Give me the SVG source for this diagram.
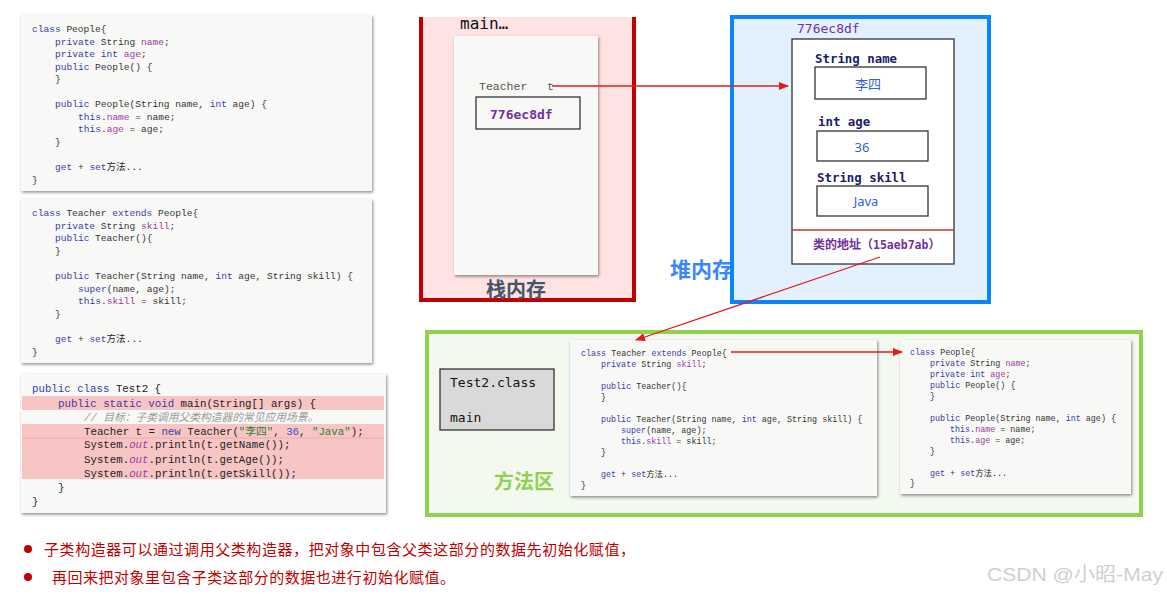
<svg xmlns="http://www.w3.org/2000/svg" width="1167" height="594" viewBox="0 0 1167 594">
<style>
.code{font-family:"Liberation Mono","Noto Sans CJK SC",monospace;fill:#333}
.c1{font-size:9.55px}
.c2{font-size:10.75px}
.c3{font-size:8.4px}
.k{fill:#3b3ba8}
.f{fill:#9a3c9a}
.s{fill:#2e7d32}
.n{fill:#3050d0}
.cm{fill:#9a9a9a;font-style:italic}
.it{fill:#9a3c9a;font-style:italic}
.paper{fill:#f8f9f7;filter:url(#sh)}
.cell{fill:#fff;stroke:#333;stroke-width:1.3}
.lbl{font-family:"DejaVu Sans Mono","Noto Sans CJK SC",monospace;font-size:12.4px;font-weight:bold;fill:#1b1b6b}
.val{font-family:"Noto Sans","Noto Sans CJK SC",sans-serif;font-size:13px;fill:#2e5fe0}
.addr{font-family:"DejaVu Sans Mono",monospace;font-size:13px;fill:#7030a0}
.cn{font-family:"Noto Sans CJK SC",sans-serif;font-weight:bold}
.conn{stroke:#e21b1b;stroke-width:1.3;fill:none}
</style>
<defs>
<filter id="sh" x="-10%" y="-10%" width="120%" height="120%">
<feDropShadow dx="1" dy="1.5" stdDeviation="1.6" flood-color="#000" flood-opacity="0.45"/>
</filter>
<marker id="arr" markerWidth="10" markerHeight="8" refX="9" refY="4" orient="auto" markerUnits="userSpaceOnUse">
<path d="M0,0 L10,4 L0,8 Z" fill="#e21b1b"/>
</marker>
</defs>
<rect width="1167" height="594" fill="#fff"/>

<g id="code-people">
<rect class="paper" x="21" y="15" width="351" height="176"/>
<text class="code c1" x="32" y="31.5"><tspan class="k">class</tspan> People{</text>
<text class="code c1" x="55" y="44.5"><tspan class="k">private</tspan> String <tspan class="f">name</tspan>;</text>
<text class="code c1" x="55" y="57"><tspan class="k">private int</tspan> <tspan class="f">age</tspan>;</text>
<text class="code c1" x="55" y="69.5"><tspan class="k">public</tspan> People() {</text>
<text class="code c1" x="55" y="82">}</text>
<text class="code c1" x="55" y="107"><tspan class="k">public</tspan> People(String name, <tspan class="k">int</tspan> age) {</text>
<text class="code c1" x="78" y="119.5"><tspan class="k">this</tspan>.<tspan class="f">name</tspan> = name;</text>
<text class="code c1" x="78" y="132"><tspan class="k">this</tspan>.<tspan class="f">age</tspan> = age;</text>
<text class="code c1" x="55" y="145">}</text>
<text class="code c1" x="55" y="170"><tspan class="k">get</tspan> + <tspan class="k">set</tspan><tspan fill="#222">方法...</tspan></text>
<text class="code c1" x="32" y="183">}</text>
</g>

<g id="code-teacher">
<rect class="paper" x="21" y="199" width="351" height="164"/>
<text class="code c1" x="32" y="215.5"><tspan class="k">class</tspan> Teacher <tspan class="k">extends</tspan> People{</text>
<text class="code c1" x="55" y="228.5"><tspan class="k">private</tspan> String <tspan class="f">skill</tspan>;</text>
<text class="code c1" x="55" y="241"><tspan class="k">public</tspan> Teacher(){</text>
<text class="code c1" x="55" y="253.5">}</text>
<text class="code c1" x="55" y="278.5"><tspan class="k">public</tspan> Teacher(String name, <tspan class="k">int</tspan> age, String skill) {</text>
<text class="code c1" x="78" y="291.5"><tspan class="k">super</tspan>(name, age);</text>
<text class="code c1" x="78" y="303.5"><tspan class="k">this</tspan>.<tspan class="f">skill</tspan> = skill;</text>
<text class="code c1" x="55" y="316.5">}</text>
<text class="code c1" x="55" y="342"><tspan class="k">get</tspan> + <tspan class="k">set</tspan><tspan fill="#222">方法...</tspan></text>
<text class="code c1" x="32" y="354.5">}</text>
</g>

<g id="code-test2">
<rect class="paper" x="21" y="374" width="365" height="139"/>
<rect x="22" y="396" width="362" height="14" fill="#f8c5c5"/>
<rect x="22" y="424" width="362" height="14" fill="#f8c5c5"/>
<rect x="22" y="438" width="362" height="41" fill="#f8c5c5"/>
<line x1="22" y1="438" x2="384" y2="438" stroke="#eaa5a5" stroke-width="0.8"/>
<text class="code c2" x="32" y="392" fill="#222"><tspan class="k">public class</tspan> <tspan fill="#222">Test2 {</tspan></text>
<text class="code c2" x="58" y="407"><tspan class="k">public static void</tspan> <tspan fill="#222">main(String[] args) {</tspan></text>
<text class="code c2 cm" x="84" y="421">// 目标：子类调用父类构造器的常见应用场景。</text>
<text class="code c2" x="84" y="435"><tspan fill="#222">Teacher t = </tspan><tspan class="k">new</tspan><tspan fill="#222"> Teacher(</tspan><tspan class="s">"李四"</tspan><tspan fill="#222">, </tspan><tspan class="n">36</tspan><tspan fill="#222">, </tspan><tspan class="s">"Java"</tspan><tspan fill="#222">);</tspan></text>
<text class="code c2" x="84" y="448"><tspan fill="#222">System.</tspan><tspan class="it">out</tspan><tspan fill="#222">.println(t.getName());</tspan></text>
<text class="code c2" x="84" y="463"><tspan fill="#222">System.</tspan><tspan class="it">out</tspan><tspan fill="#222">.println(t.getAge());</tspan></text>
<text class="code c2" x="84" y="477"><tspan fill="#222">System.</tspan><tspan class="it">out</tspan><tspan fill="#222">.println(t.getSkill());</tspan></text>
<text class="code c2" x="58" y="491" fill="#222">}</text>
<text class="code c2" x="32" y="505" fill="#222">}</text>
</g>

<g id="stack">
<rect x="421" y="17" width="213" height="283" fill="#ffe3e3"/>
<path d="M421,17 V300 H634 V17" fill="none" stroke="#c00000" stroke-width="4"/>
<text x="460" y="29" font-family="DejaVu Sans Mono,monospace" font-size="16" fill="#111">main…</text>
<rect class="paper" x="454" y="36" width="144" height="239"/>
<text x="479" y="90" font-family="Liberation Mono,monospace" font-size="11.5" fill="#555">Teacher</text>
<text x="547" y="90" font-family="Liberation Mono,monospace" font-size="11.5" fill="#555">t</text>
<rect x="476" y="97" width="104" height="32" fill="none" stroke="#333" stroke-width="1.3"/>
<text x="490" y="119" class="addr" font-weight="bold">776ec8df</text>
<text x="486" y="297" class="cn" font-size="20" fill="#44546a">栈内存</text>
</g>

<g id="heap">
<text x="670" y="277" class="cn" font-size="21" fill="#3a86ff">堆内存</text>
<rect x="732" y="17" width="257" height="285" fill="#e3f1fe" stroke="#0a84ff" stroke-width="4"/>
<text x="797" y="33" class="addr">776ec8df</text>
<rect x="792" y="39" width="162" height="225" fill="#fff" stroke="#333" stroke-width="1.3"/>
<text x="815" y="63" class="lbl">String name</text>
<rect class="cell" x="815" y="67" width="111" height="32"/>
<text x="868" y="89" class="val" text-anchor="middle">李四</text>
<text x="818" y="126" class="lbl">int age</text>
<rect class="cell" x="817" y="131" width="111" height="30"/>
<text x="862" y="152" class="val" text-anchor="middle">36</text>
<text x="817" y="182" class="lbl">String skill</text>
<rect class="cell" x="817" y="186" width="111" height="30"/>
<text x="866" y="206" class="val" text-anchor="middle">Java</text>
<line x1="792" y1="230" x2="954" y2="230" stroke="#c0392b" stroke-width="1.3"/>
<text x="813" y="249" class="cn" font-size="12" fill="#7030a0">类的地址（<tspan font-family="DejaVu Sans Mono,monospace" font-size="11.5">15aeb7ab</tspan>）</text>
</g>

<g id="method-area">
<rect x="427" y="332" width="714" height="183" fill="#f3f9ee" stroke="#92d050" stroke-width="4"/>
<rect x="440" y="369" width="114" height="61" fill="#d9d9d9" stroke="#333" stroke-width="1.3"/>
<text x="450" y="387" font-family="DejaVu Sans Mono,monospace" font-size="13" fill="#111">Test2.class</text>
<text x="450" y="422" font-family="DejaVu Sans Mono,monospace" font-size="13" fill="#111">main</text>
<text x="494" y="489" class="cn" font-size="20" fill="#92d050">方法区</text>
</g>

<g id="class-teacher">
<rect class="paper" x="570" y="340" width="307" height="156"/>
<text class="code c3" x="581" y="356"><tspan class="k">class</tspan> Teacher <tspan class="k">extends</tspan> People{</text>
<text class="code c3" x="601" y="367"><tspan class="k">private</tspan> String <tspan class="f">skill</tspan>;</text>
<text class="code c3" x="601" y="389"><tspan class="k">public</tspan> Teacher(){</text>
<text class="code c3" x="601" y="400">}</text>
<text class="code c3" x="601" y="422"><tspan class="k">public</tspan> Teacher(String name, <tspan class="k">int</tspan> age, String skill) {</text>
<text class="code c3" x="621" y="433"><tspan class="k">super</tspan>(name, age);</text>
<text class="code c3" x="621" y="444"><tspan class="k">this</tspan>.<tspan class="f">skill</tspan> = skill;</text>
<text class="code c3" x="601" y="455">}</text>
<text class="code c3" x="601" y="477"><tspan class="k">get</tspan> + <tspan class="k">set</tspan><tspan fill="#222">方法...</tspan></text>
<text class="code c3" x="581" y="488">}</text>
</g>

<g id="class-people">
<rect class="paper" x="900" y="340" width="231" height="154"/>
<text class="code c3" x="910" y="355"><tspan class="k">class</tspan> People{</text>
<text class="code c3" x="930" y="366"><tspan class="k">private</tspan> String <tspan class="f">name</tspan>;</text>
<text class="code c3" x="930" y="377"><tspan class="k">private int</tspan> <tspan class="f">age</tspan>;</text>
<text class="code c3" x="930" y="388"><tspan class="k">public</tspan> People() {</text>
<text class="code c3" x="930" y="399">}</text>
<text class="code c3" x="930" y="421"><tspan class="k">public</tspan> People(String name, <tspan class="k">int</tspan> age) {</text>
<text class="code c3" x="950" y="432"><tspan class="k">this</tspan>.<tspan class="f">name</tspan> = name;</text>
<text class="code c3" x="950" y="443"><tspan class="k">this</tspan>.<tspan class="f">age</tspan> = age;</text>
<text class="code c3" x="930" y="454">}</text>
<text class="code c3" x="930" y="476"><tspan class="k">get</tspan> + <tspan class="k">set</tspan><tspan fill="#222">方法...</tspan></text>
<text class="code c3" x="910" y="486">}</text>
</g>

<g id="connectors">
<line class="conn" x1="552" y1="86" x2="788" y2="86" marker-end="url(#arr)"/>
<line class="conn" x1="880" y1="257" x2="636" y2="340" marker-end="url(#arr)"/>
<line class="conn" x1="731" y1="352" x2="902" y2="352" marker-end="url(#arr)"/>
</g>

<g id="notes">
<circle cx="28" cy="549" r="4" fill="#c00000"/>
<text x="44" y="555" font-family="Noto Sans CJK SC,sans-serif" font-size="15" fill="#c00000" textLength="591" lengthAdjust="spacing">子类构造器可以通过调用父类构造器，把对象中包含父类这部分的数据先初始化赋值，</text>
<circle cx="28" cy="577" r="4" fill="#c00000"/>
<text x="52" y="583" font-family="Noto Sans CJK SC,sans-serif" font-size="15" fill="#c00000" textLength="403" lengthAdjust="spacing">再回来把对象里包含子类这部分的数据也进行初始化赋值。</text>
<text x="987" y="581" font-family="Liberation Sans,Noto Sans CJK SC,sans-serif" font-size="19" fill="#d0d0d0" textLength="176" lengthAdjust="spacingAndGlyphs">CSDN @小昭-May</text>
</g>
</svg>
